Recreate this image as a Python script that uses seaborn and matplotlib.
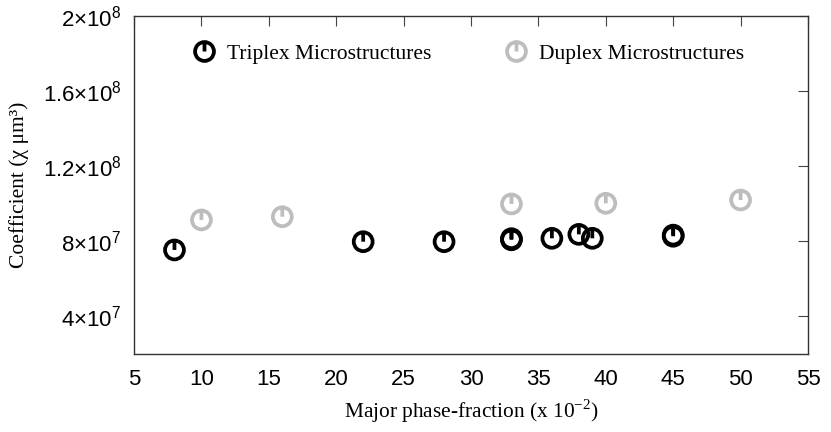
import numpy as np
import pandas as pd
import matplotlib
matplotlib.use('Agg')
import matplotlib.pyplot as plt
from matplotlib.path import Path
from matplotlib.lines import Line2D
from matplotlib.ticker import FuncFormatter
import seaborn as sns

# values
triplex_x = [8, 22, 28, 33, 33, 36, 38, 39, 45, 45]
triplex_y = [7.54e7, 7.98e7, 7.98e7, 8.08e7, 8.14e7, 8.16e7, 8.37e7, 8.16e7, 8.27e7, 8.33e7]
duplex_x = [10, 16, 33, 40, 50]
duplex_y = [9.14e7, 9.31e7, 9.99e7, 1.0025e8, 1.02e8]
x_ticks = list(range(5, 56, 5))
y_ticks = [4e7, 8e7, 1.2e8, 1.6e8, 2e8]

sns.set_theme(style='white')
plt.rcParams['mathtext.fontset'] = 'custom'
plt.rcParams['mathtext.rm'] = 'Liberation Sans'
plt.rcParams['text.color'] = 'black'

# circle with a stroke from centre to top
power = Path.make_compound_path(
    Path.unit_circle(),
    Path([(0, 0), (0, 1)], [Path.MOVETO, Path.LINETO]))

df = pd.DataFrame({
    'x': triplex_x + duplex_x,
    'y': triplex_y + duplex_y,
    'kind': ['Triplex Microstructures'] * len(triplex_x) + ['Duplex Microstructures'] * len(duplex_x)})

colors = {'Triplex Microstructures': 'black', 'Duplex Microstructures': '#bdbdbd'}

fig = plt.figure(figsize=(8.31, 4.32), dpi=100)
ax = fig.add_axes([0.1613, 0.1806, 0.8110, 0.7824])

for name in ['Duplex Microstructures', 'Triplex Microstructures']:
    sub = df[df.kind == name]
    sns.scatterplot(data=sub, x='x', y='y', marker=power, s=185, ax=ax,
                    color=colors[name], linewidth=2.7, legend=False)
for coll, name in zip(ax.collections, ['Duplex Microstructures', 'Triplex Microstructures']):
    coll.set_facecolor('none')
    coll.set_edgecolor(colors[name])
    coll.set_linewidth(2.7)

ax.set_xlim(5, 55)
ax.set_ylim(2e7, 2e8)
ax.set_xticks(x_ticks)
ax.set_yticks(y_ticks)

def fmt(v, pos):
    e = int(np.floor(np.log10(v)))
    m = v / 10 ** e
    ms = ('%g' % m)
    return r'$\mathregular{%s{\times}10^{%d}}$' % (ms, e)

ax.yaxis.set_major_formatter(FuncFormatter(fmt))
ax.tick_params(direction='in', length=7, width=0.8, color='#444444',
               top=True, right=True, labelsize=16, labelcolor='black')
ax.tick_params(axis='x', pad=11)
ax.tick_params(axis='y', pad=9)
for lab in ax.get_xticklabels() + ax.get_yticklabels():
    lab.set_fontfamily('Liberation Sans')
for sp in ax.spines.values():
    sp.set_color('#333333')
    sp.set_linewidth(1.0)

ax.set_xlabel(r'Major phase-fraction (x 10$^{\mathregular{-2}}$)',
              family='Liberation Serif', fontsize=15.4, labelpad=5, color='black')
ax.set_ylabel('Coefficient (χ μm³)', family=['Liberation Serif', 'DejaVu Serif'],
              fontsize=15.5, labelpad=10, color='black')

handles = [Line2D([], [], marker=power, linestyle='', markersize=13.6,
                  markerfacecolor='none', markeredgecolor=colors[n], markeredgewidth=2.7)
           for n in ['Triplex Microstructures', 'Duplex Microstructures']]
ax.legend(handles, ['Triplex Microstructures', 'Duplex Microstructures'], ncol=2,
          frameon=False, loc='center left', bbox_to_anchor=(0.056, 0.888),
          prop={'family': 'Liberation Serif', 'size': 15.5}, handletextpad=0.45,
          columnspacing=3.35, handlelength=1.2)

fig.savefig('out.png', dpi=100)
